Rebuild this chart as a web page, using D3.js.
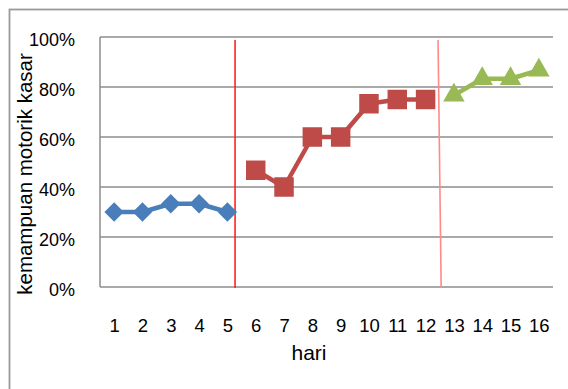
<!DOCTYPE html>
<html>
<head>
<meta charset="utf-8">
<script src="https://cdn.jsdelivr.net/npm/d3@7"></script>
<style>
  html, body { margin: 0; padding: 0; background: #fff; }
  svg { display: block; }
  text { font-family: "Liberation Sans", Arial, sans-serif; fill: #000; }
</style>
</head>
<body>
<svg id="chart" width="568" height="389"></svg>
<script>
// ---- data ----
const days = [1,2,3,4,5,6,7,8,9,10,11,12,13,14,15,16];
const phaseA = [0.30, 0.30, 0.333, 0.333, 0.30];                 // days 1-5
const phaseB = [0.467, 0.40, 0.60, 0.60, 0.733, 0.75, 0.75];      // days 6-12
const phaseC = [0.767, 0.833, 0.833, 0.867];                      // days 13-16
const yTicks = [0, 0.2, 0.4, 0.6, 0.8, 1.0];
const phaseLines = [ {top: 5.27, bottom: 5.27, color: "#ff2020"},
                     {top: 12.44, bottom: 12.55, color: "#ff8a8a"} ];
const yTitle = "kemampuan motorik kasar";
const xTitle = "hari";

const series = [
  {days: days.slice(0,5),  values: phaseA, color: "#4a7ebb", marker: "diamond"},
  {days: days.slice(5,12), values: phaseB, color: "#be4b48", marker: "square"},
  {days: days.slice(12),   values: phaseC, color: "#98b954", marker: "triangle"}
];

// ---- layout ----
const svg = d3.select("#chart");
const plot = {left: 100, right: 553, top: 37, bottom: 287};

const x = d3.scaleLinear().domain([0.5, 16.5]).range([plot.left, plot.right]);
const y = d3.scaleLinear().domain([0, 1]).range([plot.bottom, plot.top]);

// outer chart border
svg.append("rect")
  .attr("x", 9.5).attr("y", 9.5)
  .attr("width", 600).attr("height", 400)
  .attr("fill", "none").attr("stroke", "#9a9a9a").attr("stroke-width", 1.8);

// gridlines
svg.append("g").selectAll("line").data(yTicks).join("line")
  .attr("x1", plot.left).attr("x2", plot.right)
  .attr("y1", d => y(d)).attr("y2", d => y(d))
  .attr("stroke", "#8c8c8c").attr("stroke-width", 1.5);

// left axis line
svg.append("line")
  .attr("x1", plot.left).attr("x2", plot.left)
  .attr("y1", y(1)).attr("y2", y(0))
  .attr("stroke", "#8c8c8c").attr("stroke-width", 1.5);

// y axis labels
const yAxis = d3.axisLeft(y).tickValues(yTicks).tickFormat(d3.format(".0%")).tickSize(0).tickPadding(25);
const gy = svg.append("g").attr("transform", `translate(${plot.left},0)`).call(yAxis);
gy.select(".domain").remove();
gy.selectAll("text").attr("font-size", 18).attr("font-family", "Liberation Sans, Arial, sans-serif")
  .attr("dy", "0.45em").attr("fill", "#000");

// x axis labels
const xAxis = d3.axisBottom(x).tickValues(days).tickFormat(d3.format("d")).tickSize(0).tickPadding(0);
const gx = svg.append("g").attr("transform", `translate(0,${plot.bottom})`).call(xAxis);
gx.select(".domain").remove();
gx.selectAll("text").attr("font-size", 18.5).attr("font-family", "Liberation Sans, Arial, sans-serif")
  .attr("dy", null).attr("y", 45).attr("fill", "#000");

// phase separator lines
svg.append("g").selectAll("line").data(phaseLines).join("line")
  .attr("x1", d => x(d.top)).attr("x2", d => x(d.bottom))
  .attr("y1", y(1) + 3).attr("y2", y(0) + 1)
  .attr("stroke", d => d.color).attr("stroke-width", 1.6);

// series lines + markers
const line = d3.line().x(d => x(d[0])).y(d => y(d[1]));
const symbolType = {diamond: d3.symbolDiamond2, square: d3.symbolSquare, triangle: d3.symbolTriangle};
series.forEach(s => {
  const pts = s.days.map((d, i) => [d, s.values[i]]);
  svg.append("path").datum(pts)
    .attr("d", line).attr("fill", "none")
    .attr("stroke", s.color).attr("stroke-width", 4.5).attr("stroke-linejoin", "round");
  let sym;
  if (s.marker === "diamond") sym = d3.symbol().type(d3.symbolSquare).size(190);
  else if (s.marker === "square") sym = d3.symbol().type(d3.symbolSquare).size(380);
  else sym = d3.symbol().type(d3.symbolTriangle).size(200);
  svg.append("g").selectAll("path").data(pts).join("path")
    .attr("d", sym)
    .attr("transform", d => `translate(${x(d[0])},${y(d[1])})` + (s.marker === "diamond" ? " rotate(45)" : ""))
    .attr("fill", s.color);
});

// axis titles
svg.append("text")
  .attr("transform", `translate(32,174) rotate(-90)`)
  .attr("text-anchor", "middle").attr("font-size", 20.5)
  .text(yTitle);

svg.append("text")
  .attr("x", 309).attr("y", 360)
  .attr("text-anchor", "middle").attr("font-size", 21)
  .text(xTitle);
</script>
</body>
</html>
